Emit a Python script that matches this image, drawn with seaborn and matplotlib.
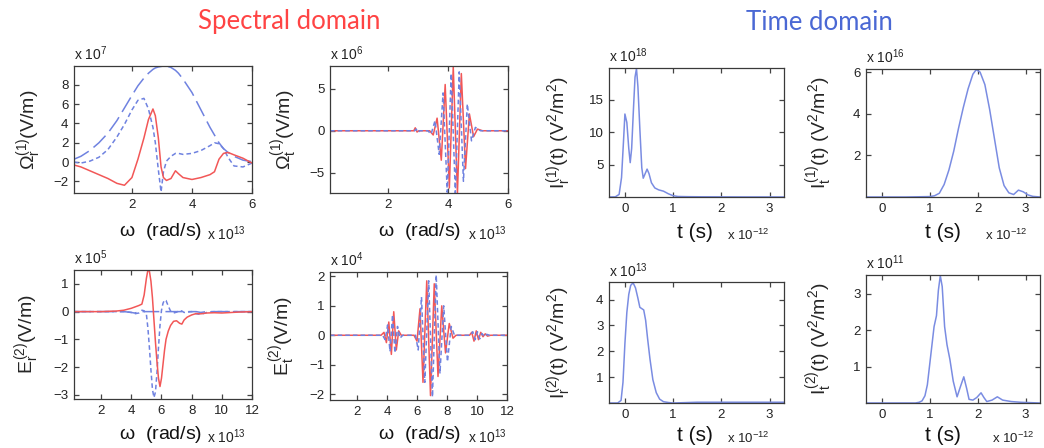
import matplotlib
matplotlib.use("Agg")
import matplotlib.pyplot as plt
import seaborn as sns

# ---------------- data ----------------
# spectral domain, top-left: omega (x1e13 rad/s), fields (x1e7 V/m)
w1 = [0.07, 0.3, 0.6, 0.9, 1.2, 1.5, 1.75, 2.0, 2.2, 2.4, 2.55, 2.7, 2.78, 2.88, 2.97,
      3.05, 3.15, 3.3, 3.45, 3.55, 3.7, 4.0, 4.3, 4.6, 4.75, 4.9, 5.05, 5.2, 5.4, 5.7, 6.0]
om_r_red = [-0.3, -0.5, -0.9, -1.3, -1.7, -2.2, -2.4, -1.6, 0.3, 2.5, 4.4, 5.5, 4.8, 2.5, -0.5,
            -1.6, -1.9, -1.7, -0.9, -1.2, -1.6, -1.8, -1.6, -1.3, -1.0, 0.3, 0.9, 1.0, 0.75, 0.4, -0.1]
om_r_short = [0.0, -0.1, 0.1, 0.5, 1.3, 2.6, 3.9, 5.4, 6.4, 6.6, 5.5, 3.6, 2.0, -0.8, -3.1,
              -1.0, 0.1, 0.6, 0.9, 0.9, 0.8, 0.9, 1.2, 1.7, 2.0, 1.9, 1.4, 0.5, -0.4, -0.5, -0.1]
om_r_long = [0.3, 0.6, 1.2, 2.0, 3.0, 4.3, 5.6, 6.9, 7.9, 8.7, 9.2, 9.6, 9.75, 9.85, 9.9,
             9.95, 9.95, 9.8, 9.5, 9.2, 8.6, 7.2, 5.4, 3.6, 2.8, 2.0, 1.4, 1.0, 0.6, 0.2, 0.05]

# spectral domain, top-right (x1e6 V/m)
w2_red = [0.05, 2.85, 2.9, 2.96, 3.02, 3.38, 3.5, 3.63, 3.77, 3.9, 4.04, 4.17, 4.31,
          4.44, 4.58, 4.71, 4.85, 4.98, 5.15, 6.0]
om_t_red = [0, 0, 0.35, -0.15, 0, 0, -0.5, 1.5, -3.5, 5.5, -6.8, 7.6, -7.4,
            6.8, -4.5, 2.0, -0.7, 0.2, 0, 0]
w2_blue = [0.05, 2.88, 2.93, 2.99, 3.05, 3.32, 3.43, 3.56, 3.7, 3.83, 3.97, 4.1, 4.24,
           4.37, 4.51, 4.64, 4.78, 4.91, 5.08, 6.0]
om_t_blue = [0, 0, 0.2, -0.2, 0, 0, -0.4, 1.2, -2.8, 4.5, -7.3, 6.8, -7.4,
             7.0, -6.0, 3.2, -1.2, 0.4, 0, 0]

# spectral domain, bottom-left (x1e5 V/m)
w3 = [0.2, 1, 2, 3, 3.5, 4.0, 4.2, 4.5, 4.7, 4.85, 5.0, 5.1, 5.2, 5.3, 5.4, 5.5, 5.6, 5.7,
      5.8, 5.9, 6.0, 6.1, 6.2, 6.3, 6.45, 6.6, 6.8, 7.0, 7.2, 7.35, 7.5, 7.7, 8.0, 8.3,
      8.6, 9.0, 9.5, 10, 11, 12]
e_r_red = [0, 0, 0, 0.02, 0.05, 0.12, 0.16, 0.22, 0.27, 0.6, 1.2, 1.5, 1.45, 1.1, 0.5, -0.3,
           -1.1, -1.8, -2.4, -2.7, -2.4, -1.9, -1.4, -1.0, -0.7, -0.5, -0.35, -0.33, -0.42,
           -0.45, -0.3, -0.2, -0.12, -0.07, -0.08, -0.05, -0.04, -0.05, -0.02, 0]
e_r_short = [0, 0, 0, 0, 0, -0.03, -0.08, -0.05, 0.05, 0.03, -0.1, -0.6, -1.3, -2.1, -2.8,
             -3.1, -2.9, -2.2, -1.3, -0.5, 0.05, 0.3, 0.42, 0.4, 0.2, 0.02, -0.05, -0.02,
             0.04, 0.02, -0.03, -0.02, 0, -0.08, -0.1, -0.03, 0, 0, 0, 0]
e_r_long = [0, 0, 0, 0, 0, -0.03, -0.05, -0.02, 0, 0, 0, 0, 0, 0, 0, 0,
            0, 0, 0, 0, 0, 0, 0, 0, 0, 0, 0, 0, 0, 0, 0, 0, 0, 0,
            -0.03, 0, 0, 0, 0, 0]

# spectral domain, bottom-right (x1e4 V/m)
w4_red = [0.2, 3.6, 3.8, 3.96, 4.12, 4.29, 4.45, 4.62, 4.78, 4.95, 5.8, 6.0, 6.2, 6.4, 6.65,
          6.9, 7.15, 7.4, 7.65, 7.9, 8.15, 8.4, 8.6, 9.5, 9.65, 9.8, 9.95, 10.1, 10.25, 10.4,
          10.55, 10.7, 10.9, 12]
e_t_red = [0, 0, 0.1, -0.25, 0.45, -0.65, 0.8, -0.5, 0.15, 0, 0, -0.2, 0.9, -1.6, 1.85,
           -2.05, 1.75, -1.4, 1.0, -0.6, 0.4, -0.1, 0, 0, 0.1, -0.2, 0.15, -0.15, 0.1, -0.05,
           0.05, -0.03, 0, 0]
w4_blue = [0.2, 3.7, 3.88, 4.04, 4.2, 4.37, 4.53, 4.7, 4.86, 5.05, 5.9, 6.08, 6.3, 6.52,
           6.78, 7.03, 7.28, 7.53, 7.78, 8.03, 8.28, 8.5, 9.55, 9.72, 9.88, 10.03, 10.18,
           10.33, 10.5, 10.65, 10.85, 12]
e_t_blue = [0, 0, -0.15, 0.35, -0.55, 0.7, -0.6, 0.3, -0.1, 0, 0, -0.5, 1.3, -1.6,
            1.85, -2.1, 2.05, -1.3, 1.0, -0.9, 0.3, 0, 0, 0.12, -0.15, 0.12, -0.12,
            0.06, -0.05, 0.03, 0, 0]

# time domain (t in x1e-12 s)
t5 = [-0.33, -0.2, -0.12, -0.07, -0.03, 0.0, 0.04, 0.08, 0.11, 0.14, 0.18, 0.21, 0.24, 0.27,
      0.31, 0.35, 0.38, 0.42, 0.46, 0.5, 0.55, 0.62, 0.7, 0.8, 0.9, 1.0, 1.1, 1.3, 1.6, 2.0,
      2.5, 3.0, 3.3]
i_r1 = [0, 0.02, 0.4, 3.0, 8.5, 12.8, 11.5, 7.5, 5.3, 7.5, 14.0, 18.5, 19.8, 17.0,
        10.5, 4.5, 2.9, 3.6, 4.3, 3.6, 2.2, 1.4, 1.1, 0.9, 0.5, 0.2, 0.08, 0.05, 0.03, 0.02,
        0.01, 0.01, 0.0]
t6 = [-0.33, 0.5, 1.0, 1.1, 1.2, 1.3, 1.4, 1.5, 1.6, 1.7, 1.8, 1.9, 1.97, 2.05, 2.15, 2.25,
      2.35, 2.45, 2.55, 2.65, 2.75, 2.85, 2.95, 3.05, 3.15, 3.3]
i_t1 = [0, 0, 0.02, 0.06, 0.18, 0.6, 1.3, 2.2, 3.3, 4.3, 5.2, 5.9, 6.12, 6.0, 5.4, 4.2,
        2.8, 1.4, 0.55, 0.2, 0.12, 0.33, 0.25, 0.1, 0.03, 0]
t7 = [-0.33, -0.15, -0.08, -0.04, 0.0, 0.04, 0.08, 0.12, 0.17, 0.22, 0.27, 0.31, 0.35, 0.39,
      0.43, 0.47, 0.52, 0.58, 0.65, 0.72, 0.8, 0.9, 1.0, 1.5, 2.0, 3.3]
i_r2 = [0, 0, 0.1, 0.8, 2.3, 3.5, 4.2, 4.55, 4.65, 4.45, 4.05, 3.7, 3.65, 3.6,
        3.2, 2.5, 1.7, 0.9, 0.4, 0.15, 0.05, 0.02, 0.0, 0.03, 0.03, 0.03]
t8 = [-0.33, 0.7, 0.78, 0.84, 0.9, 0.95, 1.02, 1.09, 1.14, 1.18, 1.22, 1.26, 1.31, 1.36,
      1.42, 1.49, 1.57, 1.64, 1.71, 1.77, 1.82, 1.9, 1.98, 2.07, 2.13, 2.19, 2.3, 2.41,
      2.52, 2.7, 2.9, 3.3]
i_t2 = [0, 0, 0.02, 0.06, 0.2, 0.5, 1.3, 2.1, 2.4, 3.1, 3.5, 3.2, 2.1, 1.6,
        1.2, 0.6, 0.17, 0.45, 0.72, 0.4, 0.1, 0.08, 0.15, 0.28, 0.15, 0.04, 0.08, 0.17,
        0.08, 0.04, 0.02, 0]

# ---------------- style ----------------
sns.set_style("ticks", {"xtick.direction": "in", "ytick.direction": "in"})
plt.rcParams["font.family"] = ["Liberation Sans", "DejaVu Sans"]
plt.rcParams["mathtext.fontset"] = "custom"
plt.rcParams["mathtext.rm"] = "Liberation Sans"
plt.rcParams["mathtext.it"] = "Liberation Sans"
plt.rcParams["mathtext.sf"] = "Liberation Sans"
plt.rcParams["mathtext.bf"] = "Liberation Sans:bold"
plt.rcParams["xtick.top"] = True
plt.rcParams["ytick.right"] = True

RED = "#f25757"
BLUE = "#6f82e0"
LBLUE = "#7a8ce2"
SHORT = (0, (3, 2))
LONG = (0, (11, 4))

W, H = 1044, 448
fig = plt.figure(figsize=(W / 100, H / 100), dpi=100)


def make_ax(left, top, right, bottom):
    ax = fig.add_axes([left / W, 1 - bottom / H, (right - left) / W, (bottom - top) / H])
    ax.tick_params(which="major", direction="in", bottom=True, left=True, top=True,
                   right=True, length=3.5, width=0.9, labelsize=9.5, pad=4,
                   color="#444444", labelcolor="#222222")
    for sp in ax.spines.values():
        sp.set_color("#3a3a3a")
        sp.set_linewidth(0.9)
    return ax


def ftext(x, y, s, **kw):
    kw.setdefault("va", "center")
    fig.text(x / W, 1 - y / H, s, **kw)


def line(ax, x, y, color, ls="-"):
    sns.lineplot(x=x, y=y, ax=ax, color=color, lw=1.1, linestyle=ls,
                 estimator=None, sort=False)


def finish(ax, xlim, ylim, xt, yt, ylabel, lx, expo):
    ax.set_xlim(*xlim)
    ax.set_ylim(*ylim)
    ax.set_xticks(xt)
    ax.set_yticks(yt)
    ax.set_xlabel("")
    ax.set_ylabel(ylabel, fontsize=14)
    ax.yaxis.set_label_coords(lx, 0.5)
    ax.text(0, 1.02, expo, transform=ax.transAxes, ha="left", va="bottom",
            fontsize=10, color="#222222")


# panel 1
ax1 = make_ax(74, 66, 252, 193)
line(ax1, w1, om_r_long, BLUE, LONG)
line(ax1, w1, om_r_short, BLUE, SHORT)
line(ax1, w1, om_r_red, RED)
finish(ax1, (0.07, 6), (-3.2, 9.95), [2, 4, 6], [-2, 0, 2, 4, 6, 8],
       r"$\Omega_r^{(1)}$(V/m)", -0.17, r"x 10$^{7}$")

# panel 2
ax2 = make_ax(330, 66, 508, 193)
line(ax2, w2_red, om_t_red, RED)
line(ax2, w2_blue, om_t_blue, BLUE, SHORT)
finish(ax2, (0.05, 6), (-7.4, 7.7), [2, 4, 6], [-5, 0, 5],
       r"$\Omega_t^{(1)}$(V/m)", -0.17, r"x 10$^{6}$")

# panel 3
ax3 = make_ax(74, 270, 252, 399)
line(ax3, w3, e_r_long, BLUE, LONG)
line(ax3, w3, e_r_short, BLUE, SHORT)
line(ax3, w3, e_r_red, RED)
finish(ax3, (0.2, 12), (-3.15, 1.5), [2, 4, 6, 8, 10, 12], [-3, -2, -1, 0, 1],
       r"$E_r^{(2)}$(V/m)", -0.18, r"x 10$^{5}$")

# panel 4
ax4 = make_ax(330, 272, 507, 400)
line(ax4, w4_red, e_t_red, RED)
line(ax4, w4_blue, e_t_blue, BLUE, SHORT)
finish(ax4, (0.2, 12), (-2.2, 2.15), [2, 4, 6, 8, 10, 12], [-2, -1, 0, 1, 2],
       r"$E_t^{(2)}$(V/m)", -0.18, r"x 10$^{4}$")

# panel 5
ax5 = make_ax(609, 68, 784, 197)
line(ax5, t5, i_r1, LBLUE)
finish(ax5, (-0.33, 3.3), (0, 19.9), [0, 1, 2, 3], [5, 10, 15],
       r"$I_r^{(1)}$(t) (V$^2$/m$^2$)", -0.2, r"x 10$^{18}$")

# panel 6
ax6 = make_ax(866, 69, 1040, 197)
line(ax6, t6, i_t1, LBLUE)
finish(ax6, (-0.33, 3.3), (0, 6.15), [0, 1, 2, 3], [2, 4, 6],
       r"$I_t^{(1)}$(t) (V$^2$/m$^2$)", -0.18, r"x 10$^{16}$")

# panel 7
ax7 = make_ax(609, 282, 784, 403)
line(ax7, t7, i_r2, LBLUE)
finish(ax7, (-0.33, 3.3), (0, 4.68), [0, 1, 2, 3], [1, 2, 3, 4],
       r"$I_r^{(2)}$(t) (V$^2$/m$^2$)", -0.2, r"x 10$^{13}$")

# panel 8
ax8 = make_ax(866, 275, 1040, 403)
line(ax8, t8, i_t2, LBLUE)
finish(ax8, (-0.33, 3.3), (0, 3.52), [0, 1, 2, 3], [1, 2, 3],
       r"$I_t^{(2)}$(t) (V$^2$/m$^2$)", -0.18, r"x 10$^{11}$")

# axis labels with the MATLAB style multipliers
for cx, ex, y in [(161, 207, 231), (420, 468, 231), (161, 207, 434), (420, 468, 434)]:
    ftext(cx, y, r"$\omega$  (rad/s)", ha="center", fontsize=14, color="#111111")
    ftext(ex, y + 3, r"x 10$^{13}$", ha="left", fontsize=10, color="#222222")
for cx, ex, y in [(695, 727, 232), (943, 985, 232), (695, 727, 435), (943, 992, 435)]:
    ftext(cx, y, "t (s)", ha="center", fontsize=15, color="#111111")
    ftext(ex, y + 3, r"x 10$^{-12}$", ha="left", fontsize=9.5, color="#222222")

ftext(289, 22, "Spectral domain", ha="center", fontsize=18.5, color="#ff4444",
      family=["Lato", "DejaVu Sans"])
ftext(819, 23, "Time domain", ha="center", fontsize=18.5, color="#4a68d4",
      family=["Lato", "DejaVu Sans"])

fig.savefig("out.png", dpi=100)
